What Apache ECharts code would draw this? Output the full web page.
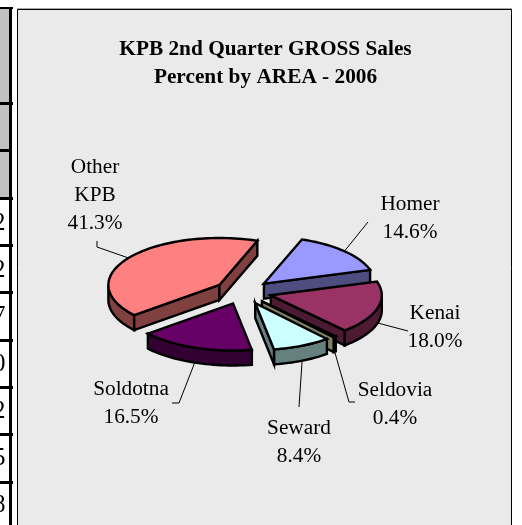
<!DOCTYPE html>
<html><head><meta charset="utf-8">
<style>html,body{margin:0;padding:0;background:#fff}#c{width:522px;height:525px}</style>
<script src="https://cdn.jsdelivr.net/npm/echarts@6/dist/echarts.min.js"></script>
</head><body><div id="c"></div>
<script>
// ---- data ----
const areas = ['Homer','Kenai','Seldovia','Seward','Soldotna','Other\nKPB'];
const percents = [14.6,18.0,0.4,8.4,16.5,41.3];
const topColors = ['#9999FF','#993366','#FFFFCC','#CCFFFF','#660066','#FF8080'];
const sideColors = ['#4D4D80','#4D1A33','#808066','#668080','#330033','#804040'];
const drawOrder = [1,2,3,4,5,0];
const titleLines = ['KPB 2nd Quarter GROSS Sales','Percent by AREA - 2006'];
const tableDigits = ['2','2','7','0','2','5','8'];
// ---- layout ----
const CX=243, CY=292, RX=111, RY=47, DEPTH=15, EXPLODE=0.26, START=20;
const labelPos = [[410,218],[435,327],[395,404],[299,442],[131,403],[95,195]];
const elbows = [[[368,222]],[[408,331]],[[349,402],[355,402]],[[299,407]],[[179,403],[172,403]],[[97,247],[97,241]]];
const rowLines=[103,150,198,245,292,340,387,434,482];
const digitRows=[223,270,316,364,411,458,505];
const FONT='"Liberation Serif","Times New Roman",serif';
const rad=d=>d*Math.PI/180;
const onRim=(a,ox,oy,dy)=>[ox+RX*Math.sin(rad(a)),oy-RY*Math.cos(rad(a))+(dy||0)];
const total=percents.reduce((s,v)=>s+v,0);
let acc=START; const slices=percents.map(v=>{const s=acc;acc+=v/total*360;return [s,acc];});

function arcPts(a,b,ox,oy,dy){const n=Math.max(2,Math.ceil((b-a)/2));const p=[];for(let i=0;i<=n;i++)p.push(onRim(a+(b-a)*i/n,ox,oy,dy));return p;}
function renderItem(params,api){
  const i=params.dataIndex,[s,e]=slices[i],m=(s+e)/2;
  const ox=CX+EXPLODE*RX*Math.sin(rad(m)),oy=CY-EXPLODE*RY*Math.cos(rad(m));
  const z=drawOrder[i]*10+1;
  const st={stroke:'#000',lineWidth:2.4,lineJoin:'miter'};
  const side=sideColors[i];
  const ch=[];
  for(const k of [0,360]){
    const a=Math.max(s,90+k),b=Math.min(e,270+k);
    if(b>a){const t=arcPts(a,b,ox,oy,0),u=arcPts(a,b,ox,oy,DEPTH).reverse();
      ch.push({type:'polygon',z2:z,shape:{points:t.concat(u)},style:{...st,fill:side}});}
  }
  const wall=(a)=>{const r=onRim(a,ox,oy,0);return {type:'polygon',z2:z,shape:{points:[[ox,oy],r,[r[0],r[1]+DEPTH],[ox,oy+DEPTH]]},style:{...st,fill:side}};};
  if(Math.sin(rad(s))<0)ch.push(wall(s));
  if(Math.sin(rad(e))>0)ch.push(wall(e));
  ch.push({type:'polygon',z2:z+1,shape:{points:[[ox,oy]].concat(arcPts(s,e,ox,oy,0))},style:{...st,fill:topColors[i]}});
  const lower=Math.cos(rad(m))<0;
  const r0=onRim(m,ox,oy,lower?DEPTH:0);
  ch.push({type:'polyline',z2:200,shape:{points:[r0].concat(elbows[i])},style:{stroke:'#000',lineWidth:1,fill:null}});
  ch.push({type:'text',z2:201,style:{x:labelPos[i][0],y:labelPos[i][1],text:areas[i]+'\n'+percents[i].toFixed(1)+'%',font:'21.3px '+FONT,lineHeight:28,fill:'#000',align:'center',verticalAlign:'middle'}});
  return {type:'group',children:ch};
}
const g=[
 {type:'rect',z:0,shape:{x:0,y:8,width:9,height:190},style:{fill:'#C0C0C0'}},
 {type:'rect',z:0,shape:{x:0,y:7,width:13,height:2},style:{fill:'#000'}},
 {type:'rect',z:0,shape:{x:9,y:7,width:3,height:518},style:{fill:'#000'}},
 {type:'rect',z:0,shape:{x:17,y:8,width:495,height:1},style:{fill:'#A8A8A8'}},
 {type:'rect',z:0,shape:{x:17.5,y:9.5,width:494,height:520},style:{fill:'#EAEAEA',stroke:'#000',lineWidth:1}}
];
rowLines.forEach(y=>g.push({type:'rect',z:0,shape:{x:0,y:y-1,width:y===150?9:13,height:3},style:{fill:'#000'}}));
tableDigits.forEach((d,i)=>g.push({type:'text',z:1,style:{x:5.5,y:digitRows[i],text:d,font:'25px '+FONT,fill:'#000',align:'right',verticalAlign:'middle'}}));
const chart=echarts.init(document.getElementById('c'),null,{renderer:'canvas'});
chart.setOption({
  animation:false,
  backgroundColor:'#fff',
  graphic:g,
  title:{text:titleLines.join('\n'),left:260.5,top:30,textAlign:'center',textStyle:{fontFamily:FONT,fontSize:21.3,fontWeight:'bold',lineHeight:28,color:'#000'}},
  series:[{type:'custom',coordinateSystem:'none',renderItem,silent:true,z:5,
    data:areas.map((a,i)=>[i,percents[i]])}]
});
</script></body></html>
